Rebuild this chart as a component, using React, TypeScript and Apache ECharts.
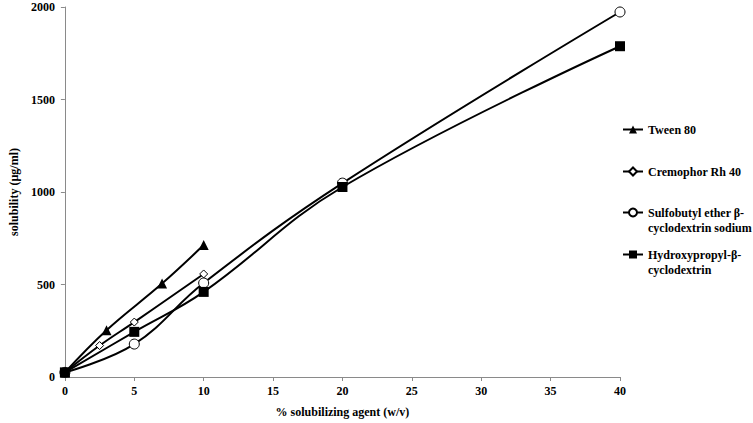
import React, { useEffect, useRef } from "react";
import * as echarts from "echarts";

const tweenX = [0, 3, 7, 10];
const tweenY = [25, 253, 505, 713];
const cremoX = [0, 2.5, 5, 10];
const cremoY = [25, 170, 297, 557];
const sulfoX = [0, 5, 10, 20, 40];
const sulfoY = [25, 178, 508, 1048, 1973];
const hpX = [0, 5, 10, 20, 40];
const hpY = [25, 244, 460, 1027, 1788];

const seriesNames = [
  "Tween 80",
  "Cremophor Rh 40",
  "Sulfobutyl ether β-cyclodextrin sodium",
  "Hydroxypropyl-β-cyclodextrin",
];
const legendLabels = [
  "Tween 80",
  "Cremophor Rh 40",
  "\nSulfobutyl ether β-\ncyclodextrin sodium",
  "\nHydroxypropyl-β-\ncyclodextrin",
];

const xTicks = { min: 0, max: 40, interval: 5 };
const yTicks = { min: 0, max: 2000, interval: 500 };

const FONT = "Liberation Serif";

function pairs(xs: number[], ys: number[]) {
  return xs.map((x, i) => [x, ys[i]]);
}

export default function App() {
  const ref = useRef<HTMLDivElement>(null);
  useEffect(() => {
    if (!ref.current) return;
    const chart = echarts.init(ref.current, undefined, { renderer: "svg" });
    const axisColor = "#8a8a8a";
    const lineStyle = { color: "#000", width: 2 };
    const mk = (
      name: string,
      data: number[][],
      symbol: string,
      size: number,
      fill: string,
      borderW: number
    ) => ({
      name,
      type: "line",
      data,
      smooth: 0.4,
      symbol,
      symbolSize: size,
      showAllSymbol: true,
      lineStyle,
      itemStyle: { color: fill, borderColor: "#000", borderWidth: borderW },
      emphasis: { disabled: true },
    });
    const legendTops = [122, 164, 190, 232];
    const legends = seriesNames.map((n, i) => ({
      data: [n],
      left: 622,
      top: legendTops[i],
      orient: "vertical",
      padding: 0,
      itemWidth: 20,
      itemHeight: 10,
      itemGap: 0,
      selectedMode: false,
      formatter: () => legendLabels[i],
      textStyle: {
        fontFamily: FONT,
        fontWeight: "bold",
        fontSize: 12,
        color: "#000",
        lineHeight: 15,
      },
    }));
    chart.setOption({
      animation: false,
      backgroundColor: "#fff",
      grid: { left: 55, right: 133, top: 7, bottom: 45, containLabel: false },
      legend: legends,
      xAxis: {
        type: "value",
        min: xTicks.min,
        max: xTicks.max,
        interval: xTicks.interval,
        name: "% solubilizing agent (w/v)",
        nameLocation: "middle",
        nameGap: 29,
        nameTextStyle: { fontFamily: FONT, fontWeight: "bold", fontSize: 12, color: "#000" },
        axisLine: { lineStyle: { color: axisColor, width: 1 } },
        axisTick: { show: true, length: 4, lineStyle: { color: axisColor } },
        axisLabel: { margin: 8, fontFamily: FONT, fontWeight: "bold", fontSize: 12, color: "#000" },
        splitLine: { show: false },
      },
      yAxis: {
        type: "value",
        min: yTicks.min,
        max: yTicks.max,
        interval: yTicks.interval,
        name: "solubility (µg/ml)",
        nameLocation: "middle",
        nameGap: 42,
        nameTextStyle: { fontFamily: FONT, fontWeight: "bold", fontSize: 12, color: "#000" },
        axisLine: { show: true, lineStyle: { color: axisColor, width: 1 } },
        axisTick: { show: true, length: 4, lineStyle: { color: axisColor } },
        axisLabel: {
          margin: 10,
          fontFamily: FONT,
          fontWeight: "bold",
          fontSize: 12,
          color: "#000",
          formatter: (v: number) => String(v),
        },
        splitLine: { show: false },
      },
      series: [
        mk(seriesNames[0], pairs(tweenX, tweenY), "triangle", 10, "#000", 0),
        mk(seriesNames[1], pairs(cremoX, cremoY), "diamond", 8, "#fff", 1),
        mk(seriesNames[2], pairs(sulfoX, sulfoY), "circle", 10, "#fff", 1),
        mk(seriesNames[3], pairs(hpX, hpY), "rect", 10, "#000", 0),
      ],
    });
    return () => chart.dispose();
  }, []);
  return (
    <div
      ref={ref}
      style={{ position: "fixed", left: 0, top: 0, width: 753, height: 423 }}
    />
  );
}
